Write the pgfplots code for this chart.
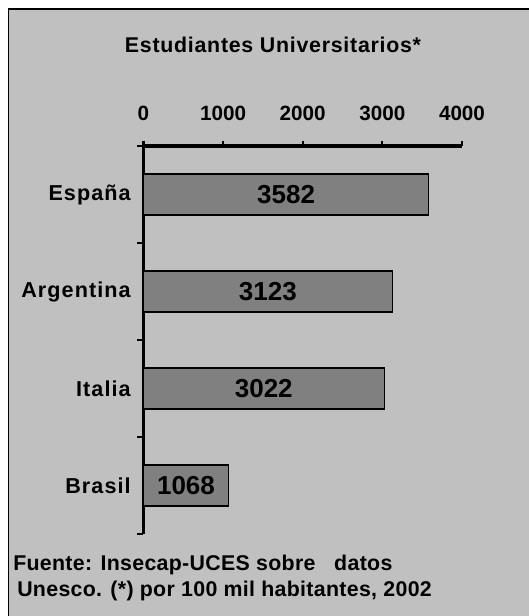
\documentclass[border=0pt]{standalone}
\usepackage{pgfplots}
\usepackage{pgfplotstable}
\pgfplotsset{compat=1.18}
\usepackage{fontspec}
\setmainfont{Liberation Sans}
\newfontfamily\titlefont{Liberation Sans}[LetterSpace=3.5]
\newfontfamily\catfont{Liberation Sans}[LetterSpace=5]
\newfontfamily\footfont{Liberation Sans}[LetterSpace=1.5]
\definecolor{bgc}{HTML}{C0C0C0}
\definecolor{barc}{HTML}{808080}
\pgfplotstableread{
y v
1 1068
2 3022
3 3123
4 3582
}\datatable
\begin{document}
\begin{tikzpicture}[x=1pt,y=1pt]
\path[use as bounding box] (0,0) rectangle (396,-462);
\fill[white] (0,0) rectangle (396,-462);
\fill[bgc] (6.4,-6.75) rectangle (400,-470);
\draw[line width=1.2pt] (6.4,-470) -- (6.4,-6.75) -- (400,-6.75);
\node[font=\titlefont\fontsize{16}{19}\selectfont\bfseries] at (204.75,-33.75) {Estudiantes Universitarios*};
\begin{axis}[
  at={(107.6pt,-400.5pt)}, anchor=south west,
  scale only axis, width=238.9pt, height=291pt,
  xmin=0, xmax=4000, ymin=0.5, ymax=4.5,
  axis x line*=top, axis y line*=left,
  axis line style={line width=2.4pt, -},
  xtick={0,1000,2000,3000,4000},
  scaled x ticks=false,
  /pgf/number format/1000 sep={},
  /pgf/number format/assume math mode=true,
  ytick={1,2,3,4}, yticklabels={Brasil,Italia,Argentina,España},
  minor ytick={0.5,1.5,2.5,3.5,4.5},
  tick align=outside,
  major tick length=4pt, minor tick length=4.5pt,
  major x tick style={line width=1.6pt, black},
  major y tick style={draw=none},
  minor y tick style={line width=2.2pt, black},
  xticklabel style={font=\fontsize{15.5}{18}\selectfont\bfseries},
  yticklabel style={font=\catfont\fontsize{16.2}{19}\selectfont\bfseries},
  xticklabel shift=11.5pt,
  yticklabel shift=2pt,
  clip=false,
]
\addplot[xbar, bar width=30.75pt, fill=barc, draw=black, line width=0.8pt] table[x=v, y=y] {\datatable};
\addplot[draw=none, mark=none, nodes near coords, point meta=explicit symbolic,
  every node near coord/.style={anchor=center, font=\fontsize{19.5}{22}\selectfont\bfseries, text=black}]
  table[x expr=\thisrow{v}/2, y=y, meta=v] {\datatable};
\end{axis}
\node[anchor=west, inner sep=0pt, font=\footfont\fontsize{16}{19}\selectfont\bfseries] at (9.75,-423.75) {Fuente: Insecap-UCES sobre\ \ \ datos};
\node[anchor=west, inner sep=0pt, font=\footfont\fontsize{16}{19}\selectfont\bfseries] at (12.75,-443.25) {Unesco. (*) por 100 mil habitantes, 2002};
\end{tikzpicture}
\end{document}
